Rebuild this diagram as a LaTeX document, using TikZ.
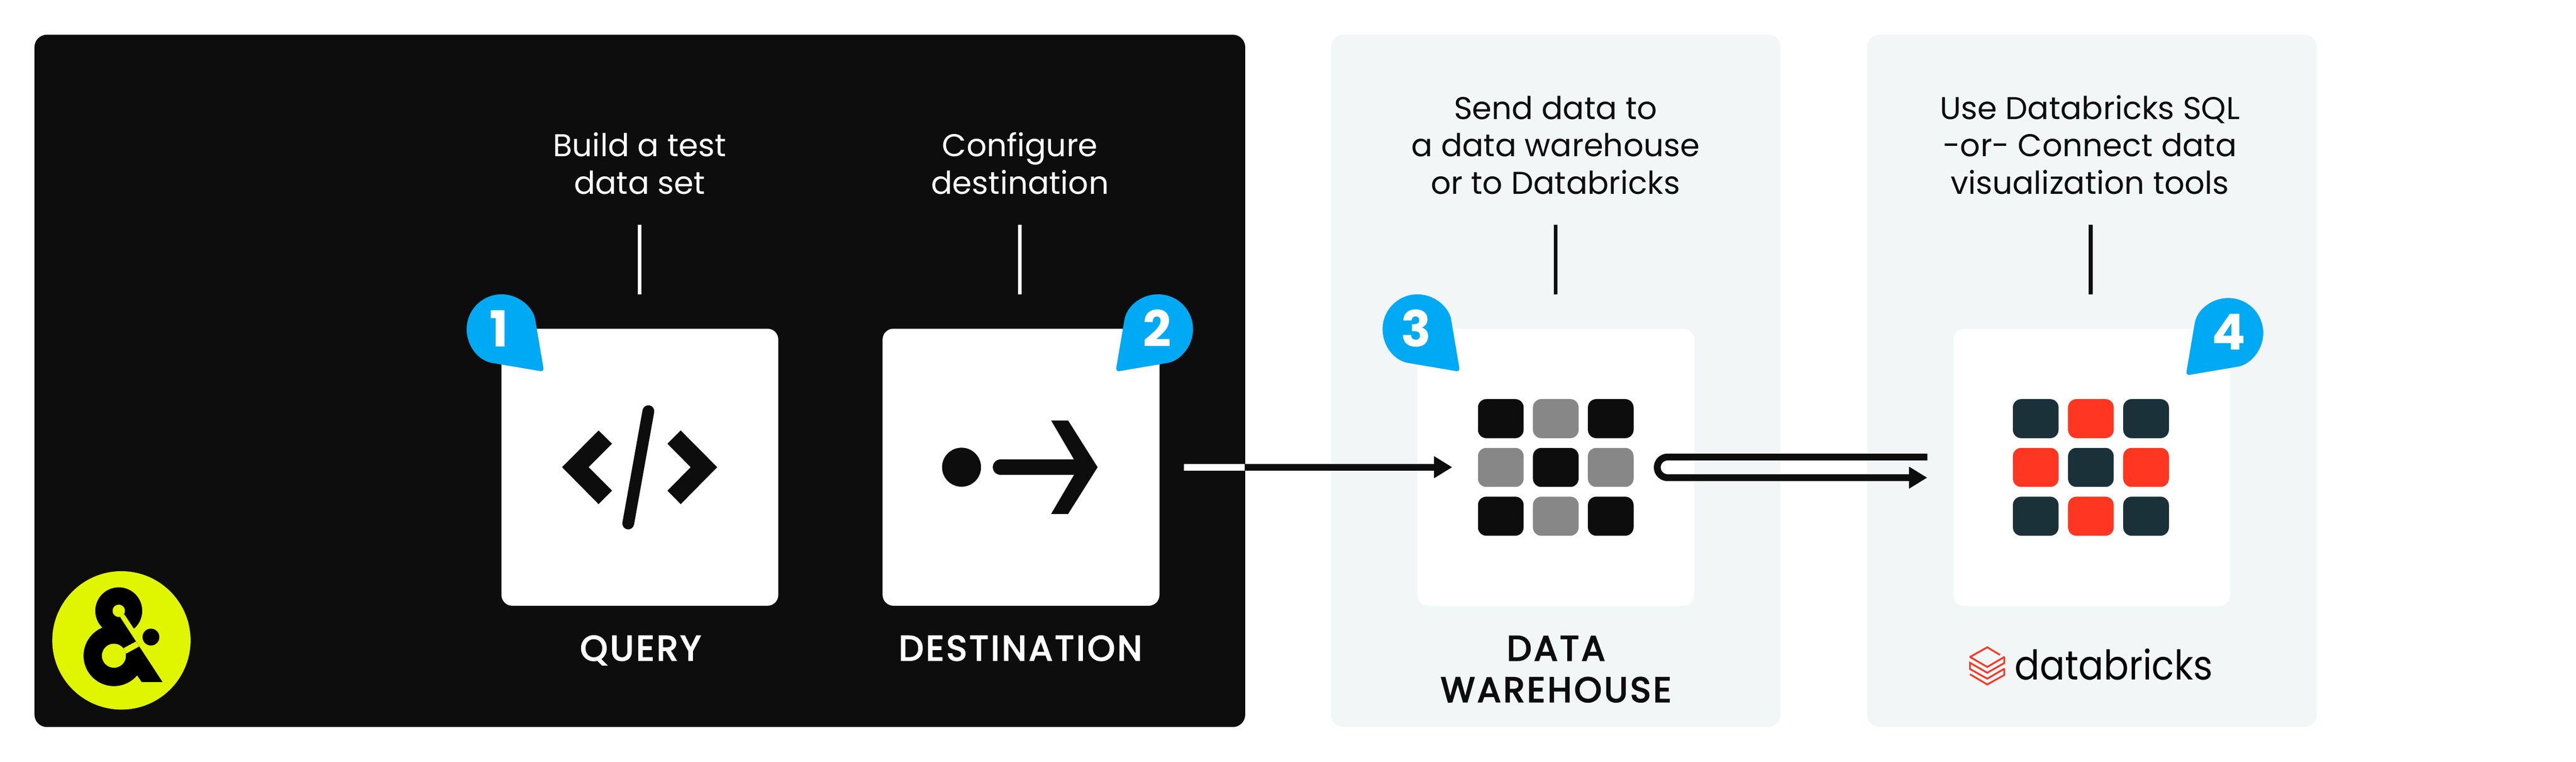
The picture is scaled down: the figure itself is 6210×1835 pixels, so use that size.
\documentclass[tikz,border=0pt]{standalone}
\usepackage{fontspec}
\setmainfont{Poppins}
\newfontfamily\capsfont[FakeBold=3.5,LetterSpace=7]{Poppins}
\newfontfamily\brickfont[FakeStretch=0.91]{Poppins}
\usepackage{tikz}
\usetikzlibrary{arrows.meta}
\usetikzlibrary{calc}
\usetikzlibrary{positioning}

\definecolor{ink}{HTML}{0D0D0D}
\definecolor{panelgrey}{HTML}{F2F6F7}
\definecolor{pinblue}{HTML}{00A9F4}
\definecolor{midgrey}{HTML}{878787}
\definecolor{brickdark}{HTML}{1B3139}
\definecolor{brickred}{HTML}{FF3621}
\definecolor{logolime}{HTML}{E0F500}

\tikzset{
	panelbox/.style={inner sep=0pt,minimum width=10.83cm,minimum height=16.67cm,rounded corners=0.3cm,fill=panelgrey},
	cardbox/.style={inner sep=0pt,minimum width=6.67cm,minimum height=6.67cm,rounded corners=0.26cm,fill=white},
	brickcell/.style={inner sep=0pt,minimum width=1.1cm,minimum height=0.94cm,rounded corners=0.2cm},
	note/.style={align=center,inner sep=0pt,anchor=base,font=\fontsize{21.6}{25.6}\selectfont},
	capslabel/.style={align=center,inner sep=0pt,anchor=base,font=\capsfont\fontsize{24}{28.4}\selectfont},
	pinnum/.style={inner sep=0pt,text=white,font=\fontsize{34}{34}\selectfont\bfseries},
	stem/.style={line width=2.5pt},
	flow/.style={line width=4.72pt},
	flowhead/.style={-{Triangle[length=12.5pt,width=14.2pt]}}
}

\newcommand{\pinfill}[2]{
	\fill[pinblue,rounded corners=2.6pt] #1 ++(#2+54.6:84) arc[start angle=#2+54.6,delta angle=250.8,radius=84] -- ($#1+(#2:145)$) -- cycle;
}

\begin{document}
\begin{tikzpicture}[x=0.01cm,y=-0.01cm]
	\useasboundingbox (0,0) rectangle (6210,1835);
	\node (pipeline) [panelbox,fill=ink,minimum width=29.17cm] at (1542.5,917.5) {};
	\node (warehousepanel) [panelbox] at (3750.5,917.5) {};
	\node (brickspanel) [panelbox] at (5043,917.5) {};

	\node (query) [cardbox] at (1542.5,1125.5) {};
	\node (destination) [cardbox,right=2.5cm of query] {};
	\node (warehouse) [cardbox] at (3750.5,1125.5) {};
	\node (bricks) [cardbox] at (5042.5,1125.5) {};

	\node (querynote) [note,text=white] at (1542,467) {Build a test\\data set};
	\node (destnote) [note,text=white] at (2459,467) {Configure\\destination};
	\node (warehousenote) [note,text=ink] at (3750,467) {Send data to\\a data warehouse\\or to Databricks};
	\node (bricksnote) [note,text=ink] at (5038,467) {Use Databricks SQL\\-or- Connect data\\visualization tools};

	\node (querylabel) [capslabel,text=white] at (1544,1591) {QUERY};
	\node (destlabel) [capslabel,text=white] at (2460,1591) {DESTINATION};
	\node (warehouselabel) [capslabel,text=ink] at (3751,1691) {DATA\\WAREHOUSE};

	\coordinate (querytop) at (1542,542);
	\coordinate (queryfoot) at (1542,709);
	\coordinate (desttop) at (2459,542);
	\coordinate (destfoot) at (2459,709);
	\coordinate (warehousetop) at (3750,542);
	\coordinate (warehousefoot) at (3750,709);
	\coordinate (brickstop) at (5040,542);
	\coordinate (bricksfoot) at (5040,709);
	\draw[stem,white] (querytop) -- (queryfoot);
	\draw[stem,white] (desttop) -- (destfoot);
	\draw[stem,ink] (warehousetop) -- (warehousefoot);
	\draw[stem,ink] (brickstop) -- (bricksfoot);

	\fill[ink] (1355,1125.5) -- (1443,1037) -- (1475.5,1069) -- (1419,1125.5) -- (1475.5,1182) -- (1443,1214.5) -- cycle;
	\fill[ink] (1729,1125.5) -- (1641,1037) -- (1609,1069) -- (1665,1125.5) -- (1609,1182) -- (1641,1214.5) -- cycle;
	\draw[ink,line width=8.1pt,line cap=round] (1563,990.5) -- (1514.5,1261);

	\fill[ink] (2318,1125.5) circle (47);
	\draw[ink,line width=10.6pt,line cap=round] (2412,1125.5) -- (2600,1125.5);
	\fill[ink] (2534,1013) -- (2575,1013) -- (2646,1125.5) -- (2575,1238) -- (2534,1238) -- (2600,1125.5) -- cycle;

	\foreach \r in {0,1,2}
		\foreach \c in {0,1,2} {
			\pgfmathtruncatemacro{\odd}{mod(\r+\c,2)}
			\ifnum\odd=1 \def\cellfill{midgrey}\else\def\cellfill{ink}\fi
			\node (wh\r\c) [brickcell,fill=\cellfill] at (3618+132.5*\c,1008.5+117.5*\r) {};
		}
	\foreach \r in {0,1,2}
		\foreach \c in {0,1,2} {
			\pgfmathtruncatemacro{\odd}{mod(\r+\c,2)}
			\ifnum\odd=1 \def\cellfill{brickred}\else\def\cellfill{brickdark}\fi
			\node (db\r\c) [brickcell,fill=\cellfill] at (4907.5+133*\c,1008.5+117.5*\r) {};
		}

	\pinfill{(1209,793)}{45}
	\pinfill{(2792,793)}{135}
	\pinfill{(3417,793)}{45}
	\pinfill{(5372,802)}{135}
	\node (pinone) [pinnum] at (1203,791) {1};
	\node (pintwo) [pinnum] at (2790,791) {2};
	\node (pinthree) [pinnum] at (3414,791) {3};
	\node (pinfour) [pinnum] at (5373,800) {4};

	\coordinate (destout) at (2854,1125.5);
	\coordinate (wall) at (3001,1125.5);
	\coordinate (warehousein) at (3501,1125.5);
	\draw[flow,white] (destout) -- (wall);
	\draw[flow,ink,flowhead] (wall) -- (warehousein);

	\coordinate (loopstart) at (4646,1101);
	\coordinate (loopbend) at (4020,1101);
	\coordinate (loopback) at (4020,1150.7);
	\coordinate (bricksin) at (4646,1150.7);
	\draw[flow,ink,flowhead] (loopstart) -- (loopbend) arc[start angle=-90,delta angle=-180,radius=24.85] -- (bricksin);

	\draw[brickred,line width=1.2pt,miter limit=2] (4821.4,1577.7) -- (4790.6,1559.3) -- (4749,1582.7) -- (4790.6,1606.7) -- (4831.7,1582.7) -- (4831.7,1597.3) -- (4790.6,1620.7) -- (4749,1596.7) -- (4749,1611.7) -- (4790.6,1635) -- (4831.7,1611) -- (4831.7,1626) -- (4790.6,1649) -- (4749,1624.3);
	\node (brickslogo) [inner sep=0pt,anchor=base,text=black,font=\brickfont\fontsize{28}{28}\selectfont] at (5096,1637) {databricks};

	\fill[logolime] (292.7,1542.7) circle (166.7);
	\begin{scope}[shift={(60,1350)},x=0.003333cm,y=-0.003333cm]
		\fill[black] (680,365) circle (170);
		\fill[black] (645,690) circle (220);
		\fill[black] (560,488) -- (700,400) -- (998,880) -- (846,880) -- (815,835) -- (600,600) -- cycle;
		\fill[logolime] (690,410) -- (720,390) -- (790,495) -- (1020,495) -- (1020,881) -- (998,881) -- cycle;
		\fill[logolime] (805,587) -- (828,623) -- (733,675) -- (715,635) -- cycle;
		\fill[logolime] (680,365) circle (45);
		\fill[logolime] (645,690) circle (87);
		\fill[black] (913,555) circle (61);
	\end{scope}
\end{tikzpicture}
\end{document}
